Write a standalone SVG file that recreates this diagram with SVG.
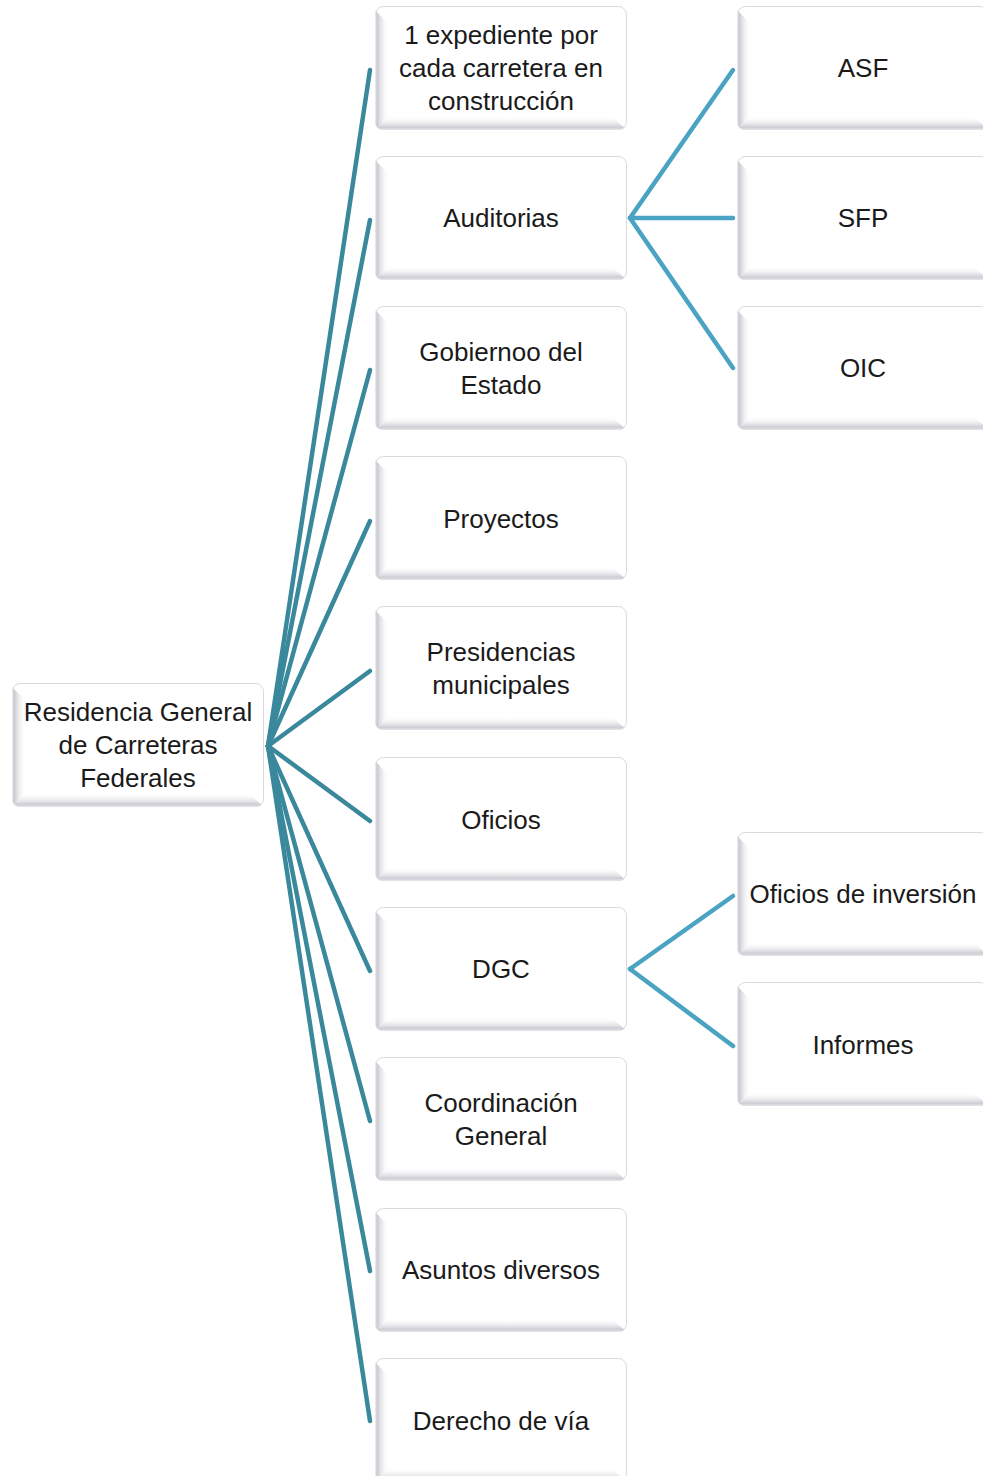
<svg xmlns="http://www.w3.org/2000/svg" xmlns:xlink="http://www.w3.org/1999/xlink" width="983" height="1476" viewBox="0 0 983 1476">
  <style>
    .lbl { font-family: "Liberation Sans", Arial, sans-serif; font-size: 26px; fill: #1a1a1a; text-anchor: middle; }
    .trunk { stroke: #3a889c; stroke-width: 4.5; fill: none; stroke-linecap: round; }
    .branch { stroke: #4ba3c3; stroke-width: 4.5; fill: none; stroke-linecap: round; }
  </style>
  <defs>
    <linearGradient id="bevelLeft" x1="0" y1="0" x2="1" y2="0">
      <stop offset="0" stop-color="#f2f2f5"/>
      <stop offset="0.15" stop-color="#c8c8d0"/>
      <stop offset="1" stop-color="#ffffff" stop-opacity="0"/>
    </linearGradient>
    <linearGradient id="bevelBottom" x1="0" y1="0" x2="0" y2="1">
      <stop offset="0" stop-color="#ffffff" stop-opacity="0"/>
      <stop offset="0.8" stop-color="#cdcdd5"/>
      <stop offset="1" stop-color="#e6e6ea"/>
    </linearGradient>
    <clipPath id="boxClip">
      <rect x="0" y="0" width="252" height="124" rx="8"/>
    </clipPath>
    <!-- bevelled white card used for every node -->
    <symbol id="box" viewBox="0 0 252 124" width="252" height="124" overflow="visible">
      <rect x="0.5" y="0.5" width="251" height="123" rx="8" fill="#ffffff" stroke="#d9d9dc" stroke-width="1"/>
      <g clip-path="url(#boxClip)">
        <polygon points="0,4 14,18 14,110 0,124" fill="url(#bevelLeft)"/>
        <polygon points="14,110 236,110 252,124 0,124" fill="url(#bevelBottom)"/>
      </g>
    </symbol>
  </defs>

  <!-- connectors -->
  <g id="connectors">
    <line class="trunk" x1="268" y1="746" x2="370" y2="70"/>
    <line class="trunk" x1="268" y1="746" x2="370" y2="220"/>
    <line class="trunk" x1="268" y1="746" x2="370" y2="370"/>
    <line class="trunk" x1="268" y1="746" x2="370" y2="521"/>
    <line class="trunk" x1="268" y1="746" x2="370" y2="671"/>
    <line class="trunk" x1="268" y1="746" x2="370" y2="821"/>
    <line class="trunk" x1="268" y1="746" x2="370" y2="971"/>
    <line class="trunk" x1="268" y1="746" x2="370" y2="1121"/>
    <line class="trunk" x1="268" y1="746" x2="370" y2="1271"/>
    <line class="trunk" x1="268" y1="746" x2="370" y2="1421"/>
    <line class="branch" x1="630" y1="218" x2="733" y2="70"/>
    <line class="branch" x1="630" y1="218" x2="733" y2="218"/>
    <line class="branch" x1="630" y1="218" x2="733" y2="368"/>
    <line class="branch" x1="630" y1="969" x2="733" y2="896"/>
    <line class="branch" x1="630" y1="969" x2="733" y2="1046"/>
  </g>

  <g id="root">
    <use xlink:href="#box" x="12" y="683"/>
    <text class="lbl" x="138" y="721">Residencia General</text>
    <text class="lbl" x="138" y="754">de Carreteras</text>
    <text class="lbl" x="138" y="787">Federales</text>
  </g>

  <g id="expediente">
    <use xlink:href="#box" x="375" y="6"/>
    <text class="lbl" x="501" y="44">1 expediente por</text>
    <text class="lbl" x="501" y="77">cada carretera en</text>
    <text class="lbl" x="501" y="110">construcción</text>
  </g>
  <g id="auditorias">
    <use xlink:href="#box" x="375" y="156"/>
    <text class="lbl" x="501" y="227">Auditorias</text>
  </g>
  <g id="gobierno">
    <use xlink:href="#box" x="375" y="306"/>
    <text class="lbl" x="501" y="361">Gobiernoo del</text>
    <text class="lbl" x="501" y="394">Estado</text>
  </g>
  <g id="proyectos">
    <use xlink:href="#box" x="375" y="456"/>
    <text class="lbl" x="501" y="528">Proyectos</text>
  </g>
  <g id="presidencias">
    <use xlink:href="#box" x="375" y="606"/>
    <text class="lbl" x="501" y="661">Presidencias</text>
    <text class="lbl" x="501" y="694">municipales</text>
  </g>
  <g id="oficios">
    <use xlink:href="#box" x="375" y="757"/>
    <text class="lbl" x="501" y="829">Oficios</text>
  </g>
  <g id="dgc">
    <use xlink:href="#box" x="375" y="907"/>
    <text class="lbl" x="501" y="978">DGC</text>
  </g>
  <g id="coordinacion">
    <use xlink:href="#box" x="375" y="1057"/>
    <text class="lbl" x="501" y="1112">Coordinación</text>
    <text class="lbl" x="501" y="1145">General</text>
  </g>
  <g id="asuntos">
    <use xlink:href="#box" x="375" y="1208"/>
    <text class="lbl" x="501" y="1279">Asuntos diversos</text>
  </g>
  <g id="derecho">
    <use xlink:href="#box" x="375" y="1358"/>
    <text class="lbl" x="501" y="1430">Derecho de vía</text>
  </g>

  <g id="asf">
    <use xlink:href="#box" x="737" y="6"/>
    <text class="lbl" x="863" y="77">ASF</text>
  </g>
  <g id="sfp">
    <use xlink:href="#box" x="737" y="156"/>
    <text class="lbl" x="863" y="227">SFP</text>
  </g>
  <g id="oic">
    <use xlink:href="#box" x="737" y="306"/>
    <text class="lbl" x="863" y="377">OIC</text>
  </g>
  <g id="oficios-inversion">
    <use xlink:href="#box" x="737" y="832"/>
    <text class="lbl" x="863" y="903">Oficios de inversión</text>
  </g>
  <g id="informes">
    <use xlink:href="#box" x="737" y="982"/>
    <text class="lbl" x="863" y="1054">Informes</text>
  </g>
</svg>
